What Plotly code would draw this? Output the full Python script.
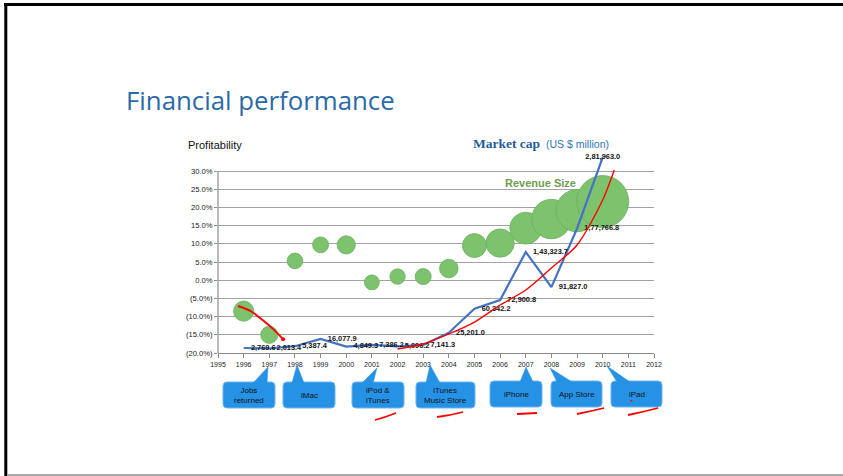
import plotly.graph_objects as go

W, H = 843, 476

# ---------------- data ----------------
years = list(range(1996, 2011))
profitability = [-8.5, -15.0, 5.3, 9.7, 9.7, -0.6, 1.0, 1.0, 3.2, 9.5, 10.2, 14.3, 16.8, 19.1, 21.6]
revenue = [9.8, 7.1, 5.9, 6.1, 8.0, 5.4, 5.7, 6.2, 8.3, 13.9, 19.3, 24.6, 37.5, 42.9, 65.2]
market_cap = [2769.6, 2013.4, 5387.4, 16077.9, 4849.3, 7386.2, 5096.2, 7141.3,
              25201.0, 60342.2, 72900.8, 143323.7, 91827.0, 177766.8, 281963.0]
market_cap_labels = ["2,769.6", "2,013.4", "5,387.4", "16,077.9", "4,849.3", "7,386.2",
                     "5,096.2", "7,141.3", "25,201.0", "60,342.2", "72,900.8",
                     "1,43,323.7", "91,827.0", "1,77,766.8", "2,81,963.0"]
trend_years = [2002, 2003, 2004, 2005, 2006, 2007, 2008, 2009, 2010, 2010.45]
trend_values = [1300, 8600, 23300, 40800, 65700, 87700, 119900, 153600, 219500, 263400]
pen_years = [1995.78, 1996.3, 1996.64, 1997.1, 1997.54]
pen_values = [-7.1, -8.6, -10.4, -13.1, -16.2]
year_ticks = list(range(1995, 2013))
profit_ticks = [-20, -15, -10, -5, 0, 5, 10, 15, 20, 25, 30]
profit_tick_labels = ["(20.0%)", "(15.0%)", "(10.0%)", "(5.0%)", "0.0%", "5.0%",
                      "10.0%", "15.0%", "20.0%", "25.0%", "30.0%"]
events = ["Jobs<br>returned", "iMac", "iPod &<br>iTunes", "iTunes<br>Music Store",
          "iPhone", "App Store", "iPad"]

# ---------------- layout geometry (pixels) ----------------
def px(x):
    return x / W

def py(y):
    return 1 - y / H

X_LEFT, X_RIGHT = 218, 654
Y_BOTTOM, Y_TOP = 353, 134.6

# callout boxes: (x0, y0, x1, y1), pointer base (bx0, bx1), tip (tx, ty)
boxes = [
    ((223, 382, 275, 408), (253, 267), (268, 367)),
    ((283, 382, 335, 408), (292, 304), (297, 365)),
    ((352, 382, 404, 408), (362, 373), (377, 368)),
    ((416, 382, 475, 408), (426, 440), (430, 365)),
    ((490, 381, 542, 407), (520, 533), (526, 367)),
    ((551, 381, 602, 407), (557, 572), (550, 368)),
    ((611, 381, 662, 407), (617, 630), (607, 366)),
]
pen_marks = [
    ((375, 420), (386, 417), (396, 413)),
    ((437, 417), (450, 415.5), (463, 412)),
    ((517, 414), (527, 413.5), (537, 413)),
    ((577, 414), (590, 411.5), (604, 408)),
    ((628, 415), (643, 412), (658, 408)),
]

fig = go.Figure()

# bubbles: profitability vs year, size = revenue
fig.add_trace(go.Scatter(
    x=years, y=profitability, mode="markers",
    marker=dict(size=revenue, sizemode="area", sizeref=2 * 65.2 / 52 ** 2,
                color="#7DC36E", opacity=1, line=dict(color="#6aae5c", width=0.8)),
    cliponaxis=False, hoverinfo="skip"))

# hand-drawn red pen stroke
fig.add_trace(go.Scatter(
    x=pen_years, y=pen_values, mode="lines",
    line=dict(color="#ff0000", width=2, shape="spline"), hoverinfo="skip"))
fig.add_trace(go.Scatter(
    x=pen_years[-1:], y=pen_values[-1:], mode="markers",
    marker=dict(color="#ff0000", size=4), hoverinfo="skip"))

# market cap line
fig.add_trace(go.Scatter(
    x=years, y=market_cap, yaxis="y2", mode="lines+markers+text",
    line=dict(color="#4472C4", width=2.2),
    marker=dict(size=10, color="rgba(0,0,0,0)"),
    text=["<b>%s</b>" % t for t in market_cap_labels],
    textposition=["middle right"] * 14 + ["middle center"],
    textfont=dict(family="Liberation Sans, Arial", size=7.4, color="#111111"),
    cliponaxis=False, hoverinfo="skip"))

# red trend curve
fig.add_trace(go.Scatter(
    x=trend_years, y=trend_values, yaxis="y2", mode="lines",
    line=dict(color="#ff0000", width=1.4, shape="spline", smoothing=0.8),
    hoverinfo="skip"))

shapes = []
# y axis line
shapes.append(dict(type="line", xref="paper", yref="y", x0=px(X_LEFT), x1=px(X_LEFT),
                   y0=-20, y1=30, line=dict(color="#8c8c8c", width=1.2)))
# slide border
shapes.append(dict(type="line", xref="paper", yref="paper", x0=px(4), x1=1.0,
                   y0=py(4.6), y1=py(4.6), line=dict(color="#000000", width=3)))
shapes.append(dict(type="line", xref="paper", yref="paper", x0=px(5.8), x1=px(5.8),
                   y0=py(3.5), y1=py(476), line=dict(color="#000000", width=3)))
shapes.append(dict(type="line", xref="paper", yref="paper", x0=px(7), x1=1.0,
                   y0=py(475), y1=py(475), line=dict(color="#8c8c8c", width=1.5)))

BOX_FILL = "#2592e6"
annotations = []
for (label, ((x0, y0, x1, y1), (bx0, bx1), (tx, ty))) in zip(events, boxes):
    r = 4
    path = ("M {a},{b} L {c},{b} Q {d},{b} {d},{e} L {d},{f} Q {d},{g} {c},{g} "
            "L {a},{g} Q {h},{g} {h},{f} L {h},{e} Q {h},{b} {a},{b} Z").format(
        a=px(x0 + r), b=py(y0), c=px(x1 - r), d=px(x1), e=py(y0 + r),
        f=py(y1 - r), g=py(y1), h=px(x0))
    shapes.append(dict(type="path", xref="paper", yref="paper", path=path,
                       fillcolor=BOX_FILL, line=dict(color="#6fb3ee", width=1)))
    tri = "M {0},{1} L {2},{3} L {4},{5} Z".format(
        px(bx0), py(y0 + 1), px(tx), py(ty), px(bx1), py(y0 + 1))
    shapes.append(dict(type="path", xref="paper", yref="paper", path=tri,
                       fillcolor=BOX_FILL, line=dict(color=BOX_FILL, width=0.5)))
    annotations.append(dict(xref="paper", yref="paper", x=px((x0 + x1) / 2),
                            y=py((y0 + y1) / 2), text=label, showarrow=False,
                            xanchor="center", yanchor="middle",
                            font=dict(family="Liberation Sans, Arial", size=8, color="#111111")))

for (p0, p1, p2) in pen_marks:
    path = "M {0},{1} Q {2},{3} {4},{5}".format(px(p0[0]), py(p0[1]), px(p1[0]),
                                                py(p1[1]), px(p2[0]), py(p2[1]))
    shapes.append(dict(type="path", xref="paper", yref="paper", path=path,
                       line=dict(color="#ff0000", width=1.8)))
shapes.append(dict(type="circle", xref="paper", yref="paper", x0=px(630), x1=px(632.5),
                   y0=py(400), y1=py(401.5), fillcolor="#ff0000", line=dict(width=0)))

# texts
annotations += [
    dict(xref="paper", yref="paper", x=px(124), y=py(100), text="Financial performance",
         showarrow=False, xanchor="left", yanchor="middle",
         font=dict(family="Open Sans", size=25.8, color="#2a6aa8")),
    dict(xref="paper", yref="paper", x=px(186), y=py(145), text="Profitability",
         showarrow=False, xanchor="left", yanchor="middle",
         font=dict(family="Liberation Sans, Arial", size=11, color="#111111")),
    dict(xref="paper", yref="paper", x=px(471), y=py(143), text="<b>Market cap</b>",
         showarrow=False, xanchor="left", yanchor="middle",
         font=dict(family="Liberation Serif", size=13.5, color="#1f5c99")),
    dict(xref="paper", yref="paper", x=px(544), y=py(144), text="(US $ million)",
         showarrow=False, xanchor="left", yanchor="middle",
         font=dict(family="Liberation Sans, Arial", size=10.5, color="#2e75b6")),
    dict(xref="paper", yref="paper", x=px(503), y=py(182.5), text="<b>Revenue Size</b>",
         showarrow=False, xanchor="left", yanchor="middle",
         font=dict(family="Liberation Sans, Arial", size=11, color="#6e9e4f")),
]

cap_per_px = 1464.0
y2_zero_px = 349.9
fig.update_layout(
    template="none",
    width=W, height=H, margin=dict(l=0, r=0, t=0, b=0, pad=0, autoexpand=False),
    paper_bgcolor="white", plot_bgcolor="white", showlegend=False,
    font=dict(family="Liberation Sans, Arial", color="#222222"),
    xaxis=dict(domain=[px(X_LEFT), px(X_RIGHT)], range=[1995, 2012], automargin=False,
               tickvals=year_ticks, ticks="outside", ticklen=4, tickcolor="#8c8c8c",
               showline=True, linecolor="#8c8c8c", linewidth=1.2, showgrid=False,
               zeroline=False,
               tickfont=dict(family="Liberation Sans, Arial", size=7, color="#222222")),
    yaxis=dict(domain=[py(Y_BOTTOM), py(Y_TOP)], range=[-20, 40], automargin=False,
               tickvals=profit_ticks, ticktext=profit_tick_labels,
               ticks="outside", ticklen=3, tickcolor="#8c8c8c",
               showgrid=True, gridcolor="#a3a3a3", gridwidth=1.3, zeroline=False,
               showline=False,
               tickfont=dict(family="Liberation Sans, Arial", size=7.6, color="#222222")),
    yaxis2=dict(overlaying="y", side="right", automargin=False,
                range=[(y2_zero_px - Y_BOTTOM) * cap_per_px, (y2_zero_px - Y_TOP) * cap_per_px],
                showgrid=False, showticklabels=False, zeroline=False, showline=False,
                ticks=""),
    shapes=shapes, annotations=annotations,
)

fig.write_html("out.html", config={"displayModeBar": False},
               post_script="document.body.style.margin='0';")
